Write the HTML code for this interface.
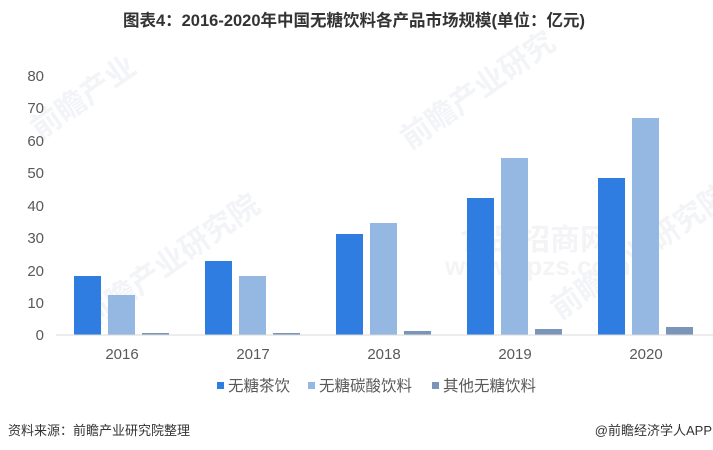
<!DOCTYPE html>
<html><head><meta charset="utf-8"><style>
html,body{margin:0;padding:0;background:#fff;}
body{width:713px;height:450px;overflow:hidden;}
svg{display:block;}
</style></head><body>
<svg width="713" height="450" viewBox="0 0 713 450" xmlns="http://www.w3.org/2000/svg" font-family="'Liberation Sans','Noto Sans CJK SC',sans-serif">
<rect width="713" height="450" fill="#fff"/>
<!-- faint watermarks -->
<g fill="#f3f4f7" font-weight="bold" font-size="30">
<text x="40" y="140" transform="rotate(-35 40 140)">前瞻产业</text>
<text x="410" y="150" transform="rotate(-35 410 150)">前瞻产业研究</text>
<text x="90" y="330" transform="rotate(-35 90 330)">前瞻产业研究院</text>
<text x="560" y="320" transform="rotate(-35 560 320)">前瞻产业研究院</text>
</g>
<g fill="#f4f4f6" font-size="30" font-weight="bold">
<text x="460" y="250">食品招商网</text>
<text x="445" y="275" font-size="26">www.spzs.com</text>
</g>
<!-- title -->
<text x="354" y="26" text-anchor="middle" font-size="16.5" font-weight="bold" fill="#333">图表4：2016-2020年中国无糖饮料各产品市场规模(单位：亿元)</text>
<!-- y labels -->
<g font-size="15" fill="#595959" text-anchor="end">
<text x="44" y="81">80</text>
<text x="44" y="113">70</text>
<text x="44" y="146">60</text>
<text x="44" y="178">50</text>
<text x="44" y="211">40</text>
<text x="44" y="243">30</text>
<text x="44" y="276">20</text>
<text x="44" y="308">10</text>
<text x="44" y="340">0</text>
</g>
<!-- bars -->
<g fill="#2f7de1">
<rect x="74" y="276" width="27" height="59"/>
<rect x="205" y="261" width="27" height="74"/>
<rect x="336" y="234" width="27" height="101"/>
<rect x="467" y="198" width="27" height="137"/>
<rect x="598" y="178" width="27" height="157"/>
</g>
<g fill="#95b8e3">
<rect x="108" y="295" width="27" height="40"/>
<rect x="239" y="276" width="27" height="59"/>
<rect x="370" y="223" width="27" height="112"/>
<rect x="501" y="158" width="27" height="177"/>
<rect x="632" y="118" width="27" height="217"/>
</g>
<g fill="#7b95b8">
<rect x="142" y="333" width="27" height="2"/>
<rect x="273" y="333" width="27" height="2"/>
<rect x="404" y="331" width="27" height="4"/>
<rect x="535" y="329" width="27" height="6"/>
<rect x="666" y="327" width="27" height="8"/>
</g>
<line x1="56" y1="335" x2="713" y2="335" stroke="#d9d9d9" stroke-width="1"/>
<!-- x labels -->
<g font-size="15" fill="#595959" text-anchor="middle">
<text x="122" y="359">2016</text>
<text x="253" y="359">2017</text>
<text x="384" y="359">2018</text>
<text x="515" y="359">2019</text>
<text x="646" y="359">2020</text>
</g>
<!-- legend -->
<rect x="217" y="382" width="7" height="7" fill="#2f7de1"/>
<text x="228" y="391" font-size="15.5" fill="#595959">无糖茶饮</text>
<rect x="308" y="382" width="7" height="7" fill="#95b8e3"/>
<text x="319" y="391" font-size="15.5" fill="#595959">无糖碳酸饮料</text>
<rect x="432" y="382" width="7" height="7" fill="#7b95b8"/>
<text x="443" y="391" font-size="15.5" fill="#595959">其他无糖饮料</text>
<!-- footer -->
<text x="8" y="435" font-size="13" fill="#333">资料来源：前瞻产业研究院整理</text>
<text x="712" y="435" font-size="13" fill="#333" text-anchor="end">@前瞻经济学人APP</text>
</svg>
</body></html>
